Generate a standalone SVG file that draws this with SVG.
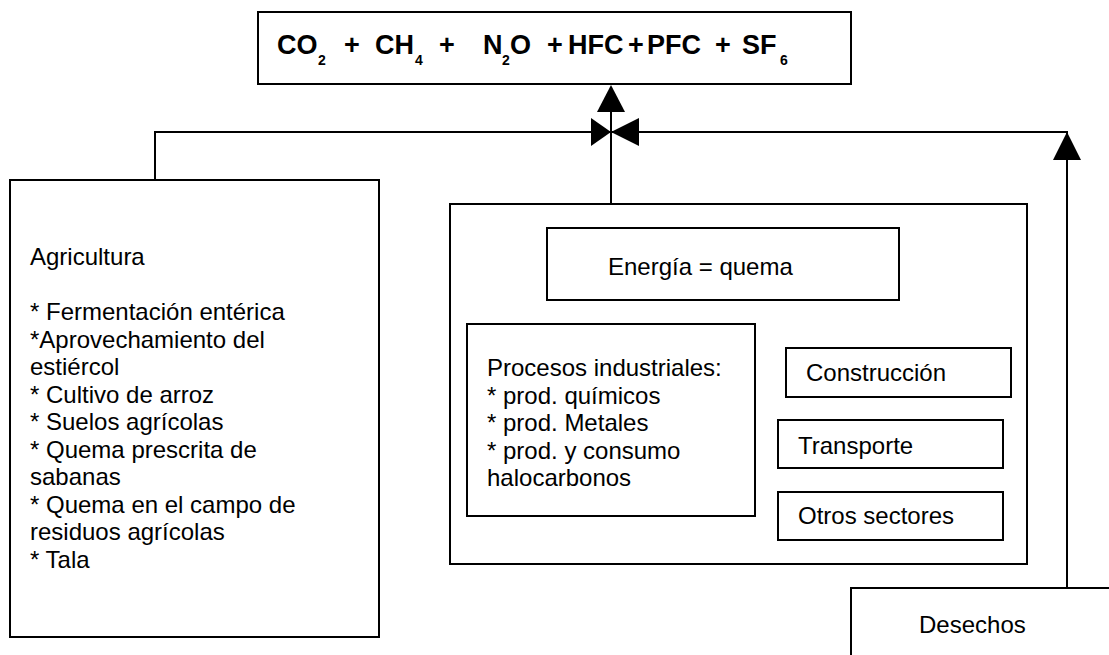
<svg xmlns="http://www.w3.org/2000/svg" width="1109" height="655" viewBox="0 0 1109 655">
<style>
.box{fill:#fff;stroke:#000;stroke-width:2}
.t{font-family:"Liberation Sans",Arial,sans-serif;font-size:24px;fill:#000}
.f{font-family:"Liberation Sans",Arial,sans-serif;font-weight:bold;font-size:27px;fill:#000}
.p{font-family:"Liberation Sans",Arial,sans-serif;font-weight:bold;font-size:27px;fill:#000;text-anchor:middle}
.s{font-family:"Liberation Sans",Arial,sans-serif;font-weight:bold;font-size:14px;fill:#000}
.ln{fill:none;stroke:#000;stroke-width:2}
.ah{fill:#000;stroke:none}
</style>
<rect width="1109" height="655" fill="#fff"/>
<g id="connectors">
<path class="ln" d="M155 180 V132 H611"/>
<path class="ln" d="M611 204 V110"/>
<path class="ln" d="M1067 588 V132 H611"/>
<polygon class="ah" points="591,118 611,132 591,146"/>
<polygon class="ah" points="639,118 611,132 639,146"/>
<polygon class="ah" points="597,112 611,85 625,112"/>
<polygon class="ah" points="1053,160 1067,132 1081,160"/>
</g>
<g id="gases">
<rect class="box" x="258" y="12" width="593" height="72"/>
<text class="f" x="277" y="54">CO</text>
<text class="s" x="318" y="65">2</text>
<text class="p" x="352" y="54">+</text>
<text class="f" x="375" y="54">CH</text>
<text class="s" x="415" y="65">4</text>
<text class="p" x="447" y="54">+</text>
<text class="f" x="483" y="54">N</text>
<text class="s" x="502" y="65">2</text>
<text class="f" x="510" y="54">O</text>
<text class="p" x="555" y="54">+</text>
<text class="f" x="568" y="54">HFC</text>
<text class="p" x="636" y="54">+</text>
<text class="f" x="647" y="54">PFC</text>
<text class="p" x="723" y="54">+</text>
<text class="f" x="742" y="54">SF</text>
<text class="s" x="780" y="65">6</text>
</g>
<g id="agricultura">
<rect class="box" x="10" y="180" width="369" height="457"/>
<text class="t" x="30" y="265">Agricultura</text>
<text class="t" x="30" y="320">* Fermentación entérica</text>
<text class="t" x="30" y="347.5">*Aprovechamiento del</text>
<text class="t" x="30" y="375">estiércol</text>
<text class="t" x="30" y="402.5">* Cultivo de arroz</text>
<text class="t" x="30" y="430">* Suelos agrícolas</text>
<text class="t" x="30" y="457.5">* Quema prescrita de</text>
<text class="t" x="30" y="485">sabanas</text>
<text class="t" x="30" y="512.5">* Quema en el campo de</text>
<text class="t" x="30" y="540">residuos agrícolas</text>
<text class="t" x="30" y="567.5">* Tala</text>
</g>
<g id="energia-grupo">
<rect class="box" x="450" y="204" width="577" height="360"/>
</g>
<g id="energia">
<rect class="box" x="547" y="228" width="352" height="72"/>
<text class="t" x="608" y="275">Energía = quema</text>
</g>
<g id="procesos">
<rect class="box" x="467" y="324" width="288" height="192"/>
<text class="t" x="487" y="376">Procesos industriales:</text>
<text class="t" x="487" y="403.5">* prod. químicos</text>
<text class="t" x="487" y="431">* prod. Metales</text>
<text class="t" x="487" y="458.5">* prod. y consumo</text>
<text class="t" x="487" y="486">halocarbonos</text>
</g>
<g id="construccion">
<rect class="box" x="786" y="348" width="225" height="49"/>
<text class="t" x="806" y="381">Construcción</text>
</g>
<g id="transporte">
<rect class="box" x="778" y="420" width="225" height="48"/>
<text class="t" x="798" y="454">Transporte</text>
</g>
<g id="otros">
<rect class="box" x="778" y="492" width="225" height="48"/>
<text class="t" x="798" y="524">Otros sectores</text>
</g>
<g id="desechos">
<rect class="box" x="851" y="588" width="270" height="80"/>
<text class="t" x="919" y="633">Desechos</text>
</g>
</svg>
